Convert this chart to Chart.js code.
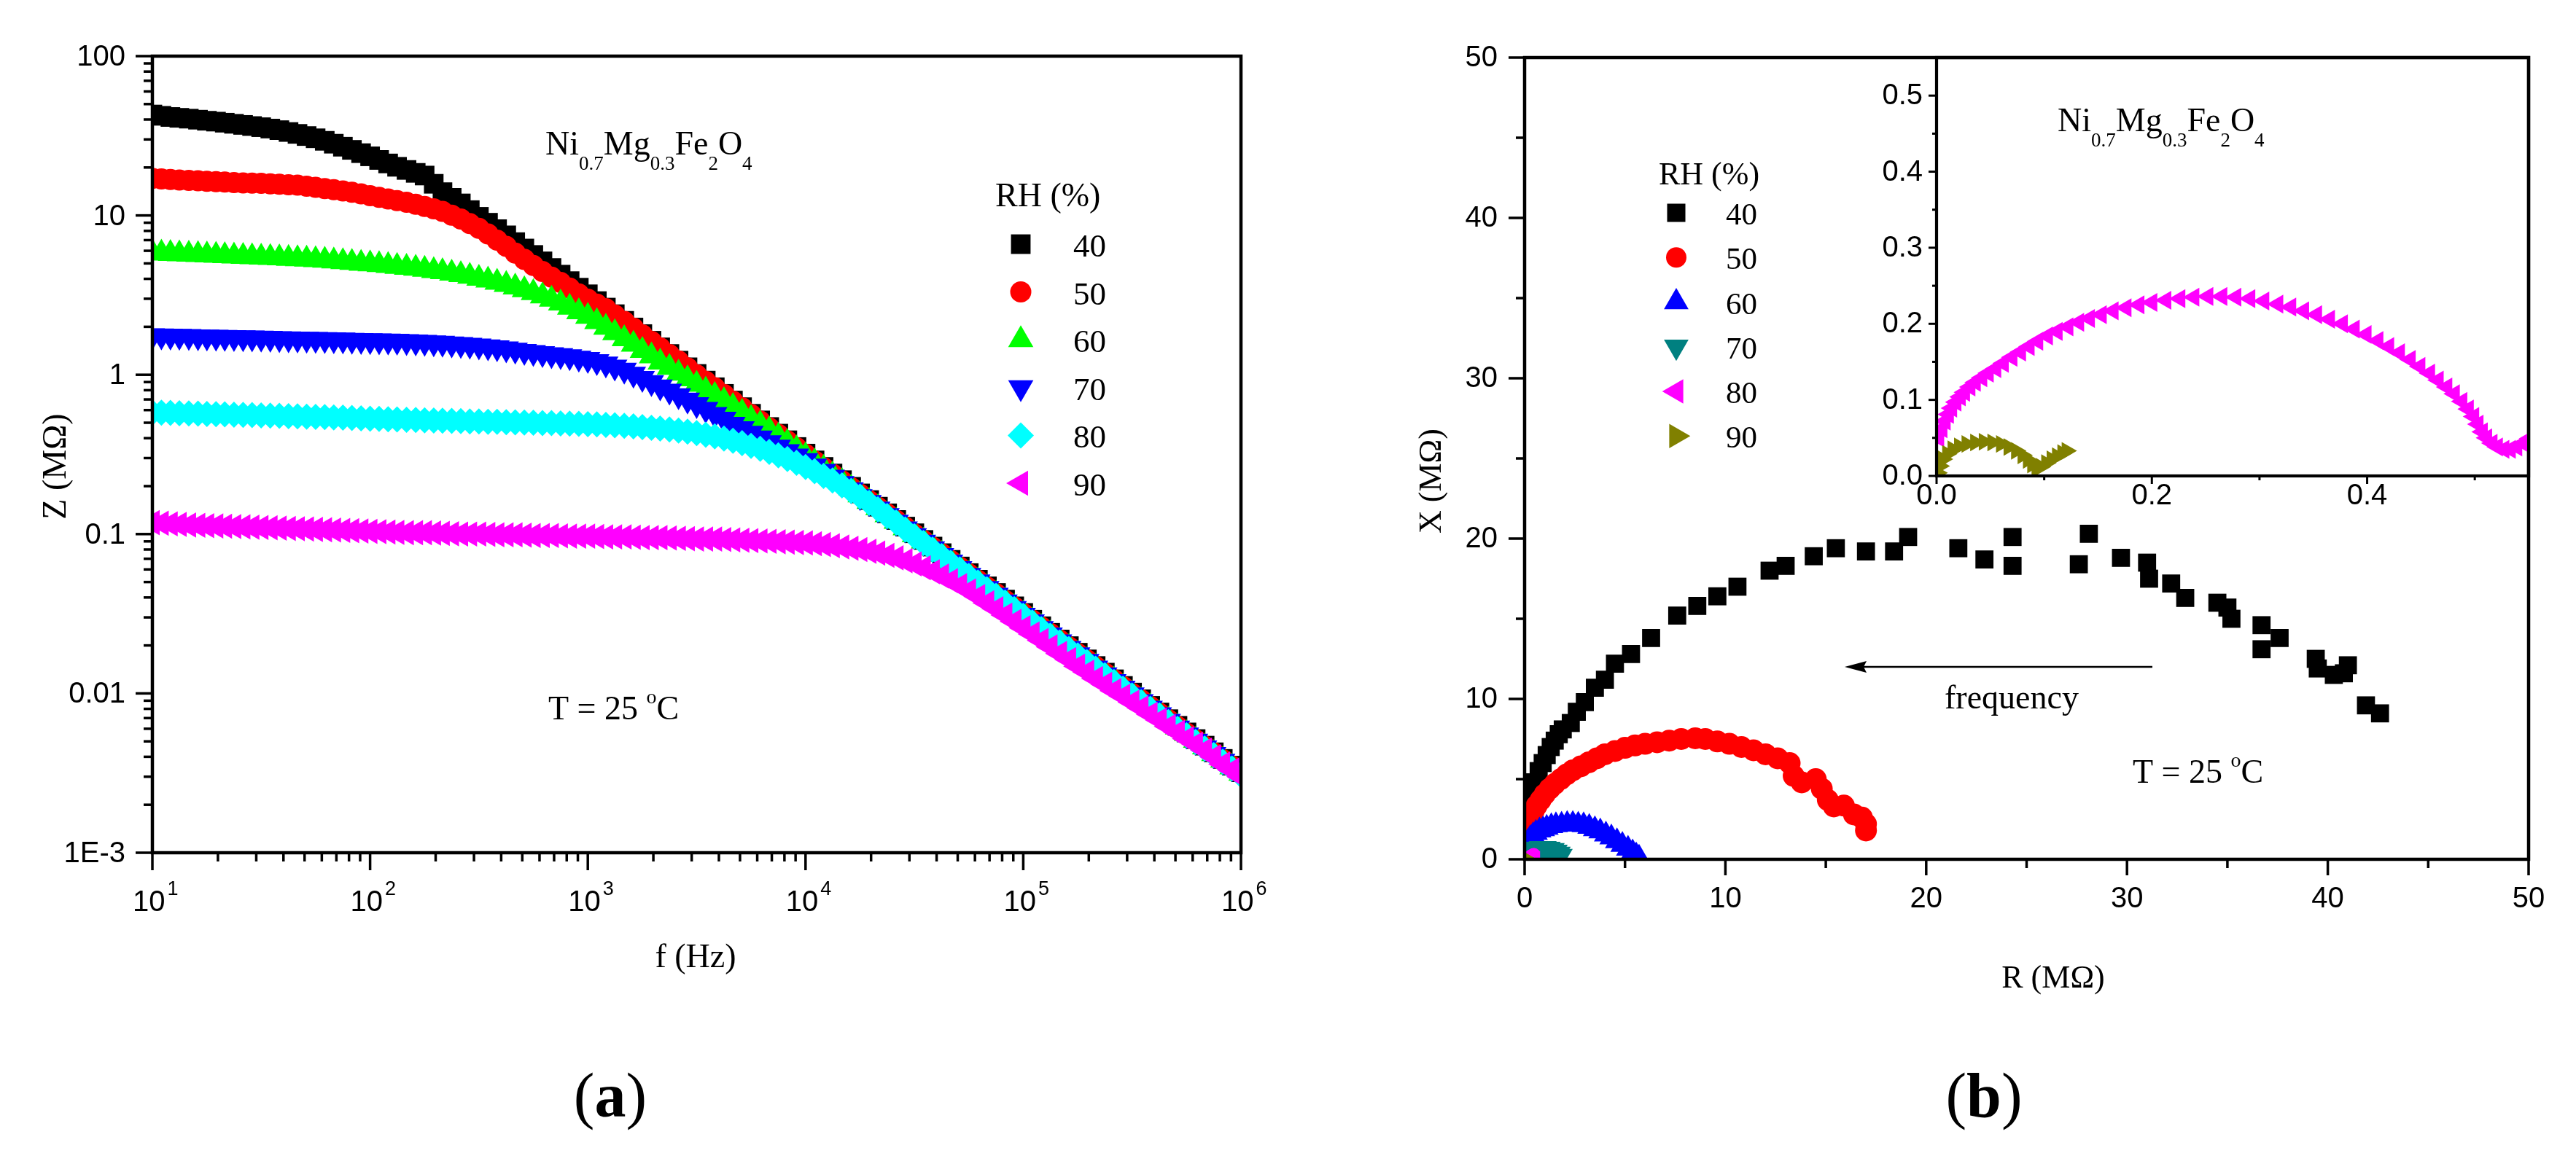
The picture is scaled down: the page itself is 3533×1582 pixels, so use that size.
<!DOCTYPE html>
<html>
<head>
<meta charset="utf-8">
<script src="https://cdn.jsdelivr.net/npm/chart.js@4.4.1/dist/chart.umd.min.js"></script>
<style>
html,body{margin:0;padding:0;background:#fff;}
#wrap{position:relative;width:3533px;height:1582px;background:#fff;overflow:hidden;}
#wrap canvas{position:absolute;left:0;top:0;}
</style>
</head>
<body>
<div id="wrap">
<canvas id="cA" width="3533" height="1582"></canvas>
<canvas id="cB" width="3533" height="1582"></canvas>
<canvas id="cC" width="3533" height="1582"></canvas>
</div>
<script>
// ===================== DATA =====================
const rhLevels = ['40', '50', '60', '70', '80', '90'];

// (a) |Z| (MΩ) vs frequency (Hz)
const freqHz = [10,11.0,12.1,13.3,14.7,16.2,17.8,19.6,21.5,23.7,26.1,28.7,31.6,34.8,38.3,42.2,46.4,51.1,56.2,61.9,68.1,75.0,82.5,90.9,
  100,110,121,133,147,162,178,196,215,237,261,287,316,348,383,422,464,511,562,619,681,750,825,909,
  1000,1100,1210,1330,1470,1620,1780,1960,2150,2370,2610,2870,3160,3480,3830,4220,4640,5110,5620,6190,6810,7500,8250,9090,
  10000,11000,12100,13300,14700,16200,17800,19600,21500,23700,26100,28700,31600,34800,38300,42200,46400,51100,56200,61900,68100,75000,82500,90900,
  100000,110000,121000,133000,147000,162000,178000,196000,215000,237000,261000,287000,316000,348000,383000,422000,464000,511000,562000,619000,681000,750000,825000,909000,
  1000000];
const z40 = [43,42.2,41.5,41.0,40.5,39.9,39.3,38.8,38.2,37.6,37.0,36.4,35.8,35.1,34.3,33.4,32.5,31.5,30.5,29.4,28.2,27.0,25.8,24.6,
  23.5,22.3,21.2,20.2,19.3,18.5,17.8,15.8,14.0,12.9,11.9,10.8,9.8,9.0,8.2,7.5,6.8,6.2,5.65,5.15,4.68,4.25,3.87,3.52,
  3.2,2.9,2.64,2.4,2.18,1.98,1.80,1.635,1.486,1.35,1.226,1.114,1.012,0.919,0.835,0.759,0.689,0.626,0.569,0.517,0.470,0.427,0.388,0.352,
  0.32,0.29,0.264,0.24,0.218,0.198,0.180,0.1635,0.1486,0.135,0.1226,0.1114,0.1012,0.0919,0.0835,0.0759,0.0689,0.0626,0.0569,0.0517,0.047,0.0427,0.0388,0.0352,
  0.032,0.029,0.0264,0.024,0.0218,0.0198,0.018,0.01635,0.01486,0.0135,0.01226,0.01114,0.01012,0.00919,0.00835,0.00759,0.00689,0.00626,0.00569,0.00517,0.0047,0.00427,0.00388,0.00352,
  0.0032];
const z50 = [17.1,16.95,16.8,16.7,16.6,16.5,16.4,16.3,16.2,16.1,16.0,15.95,15.9,15.8,15.7,15.6,15.5,15.25,15.0,14.75,14.5,14.25,14.0,13.65,
  13.3,13.0,12.7,12.4,12.1,11.75,11.4,11.0,10.6,10.05,9.5,8.9,8.3,7.65,7.0,6.4,5.8,5.3,4.85,4.45,4.1,3.8,3.5,3.22,
  2.98,2.78,2.6,2.37,2.16,1.96,1.78,1.62,1.475,1.34,1.22,1.105,1.0,0.91,0.828,0.752,0.683,0.62,0.563,0.512,0.465,0.423,0.384,0.349,
  0.317,0.288,0.261,0.238,0.216,0.196,0.178,0.162,0.1475,0.134,0.122,0.1105,0.100,0.091,0.0828,0.0752,0.0683,0.062,0.0563,0.0512,0.0465,0.0423,0.0384,0.0349,
  0.0317,0.0288,0.0261,0.0238,0.0216,0.0196,0.0178,0.0162,0.01475,0.0134,0.0122,0.01105,0.0100,0.0091,0.00828,0.00752,0.00683,0.0062,0.00563,0.00512,0.00465,0.00423,0.00384,0.00349,
  0.00317];
const z60 = [5.82,5.79,5.76,5.73,5.70,5.67,5.64,5.61,5.58,5.55,5.52,5.49,5.46,5.43,5.40,5.37,5.34,5.30,5.26,5.22,5.17,5.12,5.06,5.0,
  4.95,4.9,4.84,4.78,4.72,4.65,4.58,4.5,4.42,4.33,4.24,4.14,4.03,3.92,3.80,3.68,3.55,3.41,3.27,3.12,2.97,2.81,2.65,2.48,
  2.32,2.15,1.98,1.83,1.68,1.55,1.42,1.31,1.20,1.11,1.02,0.94,0.87,0.8,0.74,0.685,0.63,0.58,0.53,0.49,0.45,0.41,0.375,0.342,
  0.31,0.283,0.258,0.235,0.213,0.194,0.176,0.16,0.146,0.132,0.12,0.109,0.099,0.09,0.082,0.0744,0.0676,0.0614,0.0558,0.0507,0.046,0.0418,0.038,0.0345,
  0.0314,0.0285,0.0259,0.0235,0.0214,0.0194,0.0176,0.016,0.0146,0.0132,0.0121,0.0109,0.0099,0.009,0.0082,0.00744,0.00676,0.00614,0.00558,0.00507,0.0046,0.00418,0.0038,0.00345,
  0.00314];
const z70 = [1.76,1.755,1.75,1.745,1.74,1.735,1.73,1.725,1.72,1.715,1.71,1.705,1.70,1.695,1.69,1.685,1.68,1.675,1.67,1.665,1.66,1.655,1.65,1.645,
  1.64,1.635,1.63,1.625,1.62,1.61,1.60,1.59,1.58,1.565,1.55,1.535,1.52,1.50,1.48,1.455,1.43,1.405,1.38,1.36,1.34,1.32,1.30,1.275,
  1.25,1.21,1.17,1.12,1.07,1.01,0.95,0.895,0.84,0.79,0.74,0.695,0.65,0.607,0.565,0.527,0.49,0.46,0.43,0.402,0.375,0.352,0.33,0.31,
  0.29,0.268,0.248,0.228,0.208,0.19,0.172,0.158,0.144,0.131,0.119,0.108,0.098,0.089,0.0811,0.0736,0.0669,0.0608,0.0552,0.0502,0.0456,0.0414,0.0376,0.0342,
  0.031,0.0282,0.0256,0.0233,0.0211,0.0192,0.0175,0.0159,0.01445,0.0131,0.0119,0.0108,0.0098,0.0089,0.0081,0.00736,0.0067,0.00608,0.0055,0.00502,0.00456,0.00414,0.00376,0.00342,
  0.0031];
const z80 = [0.58,0.578,0.576,0.574,0.572,0.57,0.568,0.566,0.564,0.562,0.56,0.558,0.556,0.554,0.552,0.55,0.548,0.546,0.544,0.542,0.54,0.538,0.535,0.532,
  0.53,0.528,0.526,0.524,0.522,0.52,0.518,0.516,0.515,0.513,0.512,0.51,0.509,0.507,0.506,0.504,0.503,0.501,0.50,0.498,0.497,0.495,0.494,0.492,
  0.49,0.488,0.485,0.482,0.478,0.474,0.47,0.465,0.46,0.454,0.447,0.439,0.43,0.42,0.41,0.398,0.385,0.372,0.358,0.343,0.328,0.312,0.296,0.28,
  0.264,0.248,0.232,0.217,0.202,0.187,0.172,0.157,0.143,0.13,0.118,0.107,0.097,0.088,0.080,0.0728,0.066,0.06,0.0546,0.0496,0.0451,0.041,0.0372,0.0338,
  0.0307,0.0279,0.0253,0.023,0.0209,0.019,0.0173,0.0157,0.0143,0.013,0.0118,0.0107,0.0097,0.0088,0.008,0.00728,0.0066,0.006,0.00546,0.00496,0.00451,0.0041,0.00372,0.00338,
  0.00307];
const z90 = [0.118,0.117,0.116,0.115,0.114,0.1135,0.113,0.1125,0.112,0.1115,0.111,0.1105,0.110,0.1095,0.109,0.1085,0.108,0.1075,0.107,0.1065,0.106,0.1055,0.105,0.1045,
  0.104,0.1035,0.103,0.1025,0.102,0.102,0.102,0.1015,0.101,0.1005,0.100,0.100,0.100,0.0995,0.099,0.099,0.099,0.0985,0.098,0.098,0.098,0.0975,0.097,0.097,
  0.097,0.0965,0.096,0.096,0.096,0.0955,0.095,0.095,0.095,0.0945,0.094,0.0935,0.093,0.093,0.093,0.0925,0.092,0.0915,0.091,0.0905,0.090,0.0895,0.089,0.0885,
  0.088,0.087,0.086,0.0845,0.083,0.0815,0.080,0.078,0.076,0.0735,0.071,0.068,0.065,0.0615,0.058,0.0545,0.051,0.0475,0.044,0.0405,0.037,0.034,0.031,0.0283,
  0.0258,0.0236,0.0215,0.0196,0.0178,0.0163,0.0148,0.0136,0.0124,0.0114,0.0104,0.0096,0.0088,0.0081,0.0074,0.0068,0.0062,0.0057,0.0052,0.0048,0.0044,0.004,0.0036,0.0033,
  0.0030];

// (b) Nyquist: R (MΩ) and X (MΩ)
const r40 = [0.05,0.1,0.2,0.3,0.5,0.7,0.9,1.1,1.3,1.5,1.7,1.9,2.3,2.6,3.0,3.5,4.0,4.5,5.3,6.3,
  7.6,8.6,9.6,10.6,12.2,13.0,14.4,15.5,17.0,18.4,19.1,21.6,22.9,24.3,24.3,27.6,28.1,29.7,31.0,31.1,
  32.2,32.9,34.5,35.0,35.2,36.7,36.7,37.6,39.4,39.5,40.3,41.0,40.8,41.9,42.6];
const x40 = [2.0,2.6,3.3,4.1,4.8,5.5,6.0,6.5,7.0,7.4,7.8,8.1,8.5,9.2,9.8,10.7,11.2,12.2,12.8,13.8,
  15.2,15.8,16.4,17.0,18.0,18.3,18.9,19.4,19.2,19.2,20.1,19.4,18.7,20.1,18.3,18.4,20.3,18.8,18.5,17.5,
  17.2,16.3,16.0,15.7,15.0,14.6,13.1,13.8,12.5,11.9,11.5,12.1,11.6,9.6,9.1];
const r50 = [0.05,0.15,0.3,0.45,0.6,0.8,1.0,1.25,1.5,1.8,2.1,2.4,2.8,3.2,3.6,4.0,4.5,5.0,5.5,6.0,
  6.6,7.2,7.8,8.5,9.0,9.6,10.2,10.8,11.4,12.0,12.6,13.2,13.4,13.8,14.5,14.8,15.1,15.4,15.9,16.4,
  16.8,17.0,17.0];
const x50 = [1.6,2.1,2.6,3.0,3.35,3.7,4.05,4.4,4.7,5.0,5.3,5.55,5.8,6.05,6.3,6.55,6.75,6.95,7.1,7.2,
  7.3,7.4,7.5,7.55,7.5,7.35,7.2,7.0,6.8,6.55,6.3,6.0,5.2,4.8,5.0,4.4,3.7,3.3,3.35,2.8,
  2.6,2.2,1.8];
const r60 = [0.05,0.15,0.28,0.42,0.56,0.74,0.92,1.1,1.33,1.56,1.84,2.12,2.4,2.67,2.94,3.22,3.5,3.77,
  4.05,4.32,4.6,4.87,5.15,5.38,5.56,5.7];
const x60 = [0.85,1.08,1.32,1.5,1.65,1.79,1.88,1.97,2.07,2.12,2.16,2.2,2.2,2.16,2.12,2.02,1.88,1.74,
  1.55,1.36,1.13,0.9,0.66,0.43,0.24,0.1];
const r70 = [0.05,0.2,0.4,0.6,0.8,1.0,1.2,1.4,1.55,1.7,1.8];
const x70 = [0.4,0.5,0.6,0.66,0.7,0.7,0.66,0.58,0.48,0.35,0.22];
const r80 = [0.002,0.005,0.008,0.011,0.014,0.018,0.022,0.026,0.031,0.036,0.042,0.048,0.055,0.062,0.070,
  0.078,0.086,0.094,0.103,0.112,0.122,0.132,0.142,0.153,0.164,0.176,0.188,0.200,0.213,0.226,
  0.239,0.252,0.265,0.278,0.291,0.304,0.317,0.329,0.341,0.353,0.365,0.377,0.388,0.399,0.410,
  0.420,0.430,0.440,0.449,0.458,0.466,0.474,0.481,0.488,0.494,0.499,0.503,0.507,0.511,0.516,
  0.521,0.527,0.533,0.539,0.545,0.551];
const x80 = [0.050,0.062,0.072,0.081,0.089,0.097,0.104,0.110,0.117,0.123,0.129,0.135,0.141,0.148,0.156,
  0.163,0.170,0.177,0.184,0.190,0.196,0.202,0.207,0.212,0.217,0.221,0.225,0.228,0.231,0.233,
  0.235,0.236,0.236,0.235,0.233,0.230,0.226,0.222,0.217,0.212,0.206,0.200,0.193,0.186,0.178,
  0.170,0.162,0.153,0.144,0.135,0.126,0.117,0.108,0.098,0.088,0.078,0.068,0.058,0.050,0.043,
  0.038,0.035,0.035,0.038,0.043,0.049];
const r90 = [0.001,0.003,0.006,0.010,0.015,0.021,0.028,0.036,0.044,0.052,0.060,0.067,0.074,0.080,
  0.085,0.089,0.093,0.097,0.102,0.107,0.112,0.117,0.121];
const x90 = [0.004,0.013,0.022,0.029,0.035,0.039,0.042,0.044,0.045,0.044,0.042,0.038,0.033,0.027,
  0.021,0.015,0.010,0.012,0.017,0.022,0.026,0.030,0.033];

// tick values / labels
const zTickVals = [100, 10, 1, 0.1, 0.01, 0.001];
const zTickLabels = ['100', '10', '1', '0.1', '0.01', '1E-3'];
const fTickVals = [10, 100, 1000, 10000, 100000, 1000000];
const fTickExp = ['1', '2', '3', '4', '5', '6'];
const nyqTickVals = [0, 10, 20, 30, 40, 50];
const nyqTickLabels = ['0', '10', '20', '30', '40', '50'];
const nyqMinorVals = [5, 15, 25, 35, 45];
const insetXTickVals = [0, 0.2, 0.4];
const insetXTickLabels = ['0.0', '0.2', '0.4'];
const insetXMinorVals = [0.1, 0.3, 0.5];
const insetYTickVals = [0, 0.1, 0.2, 0.3, 0.4, 0.5];
const insetYTickLabels = ['0.0', '0.1', '0.2', '0.3', '0.4', '0.5'];
const insetYMinorVals = [0.05, 0.15, 0.25, 0.35, 0.45];

// ===================== STYLE / LAYOUT =====================
const W = 3533, H = 1582;
const SANS = '"Liberation Sans", Arial, Helvetica, sans-serif';
const SERIF = '"Liberation Serif", "Times New Roman", Times, serif';
const PANEL_A = {left: 209, top: 77, right: 1702, bottom: 1170};
const PANEL_B = {left: 2091, top: 79, right: 3468, bottom: 1179};
const PANEL_C = {left: 2656, top: 79, right: 3468, bottom: 653};
const COLORS_A = ['#000000', '#FF0000', '#00FF00', '#0000FF', '#00FFFF', '#FF00FF'];
const STYLES_A = [['rect', 0, 19], ['circle', 0, 14.5], ['triangle', 0, 20], ['triangle', 180, 20], ['rectRot', 0, 18], ['triangle', 270, 20]];
const COLORS_B = ['#000000', '#FF0000', '#0000FF', '#008080', '#FF00FF', '#808000'];
const STYLES_B = [['rect', 0, 17.5], ['circle', 0, 15], ['triangle', 0, 19], ['triangle', 180, 19], ['triangle', 270, 12], ['triangle', 90, 12]];
const LEGEND_B_R = [17.7, 14, 19.5, 19.5, 19.3, 19.3];

function pad(p) { return {left: p.left, top: p.top, right: W - p.right, bottom: H - p.bottom}; }

function ds(label, xs, ys, color, st, idx, n) {
  return {
    label: label,
    data: xs.map((v, i) => ({x: v, y: ys[i]})),
    backgroundColor: color, borderColor: color,
    pointBackgroundColor: color, pointBorderColor: color,
    pointStyle: st[0], pointRotation: st[1], pointRadius: st[2], pointHoverRadius: st[2],
    pointBorderWidth: 0, showLine: false, clip: 0,
    order: n - idx
  };
}

function line(ctx, x1, y1, x2, y2) { ctx.beginPath(); ctx.moveTo(x1, y1); ctx.lineTo(x2, y2); ctx.stroke(); }

function marker(ctx, style, rot, r, color, x, y) {
  ctx.save();
  ctx.fillStyle = color; ctx.strokeStyle = color;
  if (Chart.helpers && Chart.helpers.drawPoint) {
    Chart.helpers.drawPoint(ctx, {pointStyle: style, rotation: rot, radius: r, borderWidth: 0}, x, y);
  } else {
    ctx.beginPath(); ctx.arc(x, y, r, 0, Math.PI * 2); ctx.fill();
  }
  ctx.restore();
}

function rich(ctx, parts, x, y, align) {
  let total = 0;
  for (const p of parts) { ctx.font = (p[3] || '') + ' ' + p[1] + 'px ' + SERIF; total += ctx.measureText(p[0]).width; }
  let cx = align === 'center' ? x - total / 2 : x;
  ctx.textAlign = 'left'; ctx.textBaseline = 'alphabetic';
  for (const p of parts) {
    ctx.font = (p[3] || '') + ' ' + p[1] + 'px ' + SERIF;
    ctx.fillText(p[0], cx, y + (p[2] || 0));
    cx += ctx.measureText(p[0]).width;
  }
}

const FORMULA = [['Ni', 46, 0], ['0.7', 27, 21], ['Mg', 46, 0], ['0.3', 27, 21], ['Fe', 46, 0], ['2', 27, 21], ['O', 46, 0], ['4', 27, 21]];
const TEMP = [['T = 25 ', 46, 0], ['o', 28, -22], ['C', 46, 0]];

function rotatedTitle(ctx, s, x, y, size) {
  ctx.save();
  ctx.translate(x, y); ctx.rotate(-Math.PI / 2);
  ctx.font = size + 'px ' + SERIF; ctx.textAlign = 'center'; ctx.textBaseline = 'middle';
  ctx.fillText(s, 0, 0);
  ctx.restore();
}

// ===================== PLUGINS =====================
const decorA = {
  id: 'decorA',
  afterDatasetsDraw(chart) {
    const {ctx, chartArea: a, scales: {x, y}} = chart;
    ctx.save();
    ctx.strokeStyle = '#000'; ctx.fillStyle = '#000';
    ctx.lineWidth = 4.5;
    ctx.strokeRect(a.left, a.top, a.right - a.left, a.bottom - a.top);
    ctx.lineWidth = 3.5;
    for (let e = 1; e <= 6; e++) {
      const p = x.getPixelForValue(Math.pow(10, e));
      line(ctx, p, a.bottom, p, a.bottom + 24);
      if (e < 6) for (let m = 2; m <= 9; m++) {
        const q = x.getPixelForValue(m * Math.pow(10, e));
        line(ctx, q, a.bottom, q, a.bottom + 12);
      }
    }
    for (let e = -3; e <= 2; e++) {
      const p = y.getPixelForValue(Math.pow(10, e));
      line(ctx, a.left - 23, p, a.left, p);
      if (e < 2) for (let m = 2; m <= 9; m++) {
        const q = y.getPixelForValue(m * Math.pow(10, e));
        line(ctx, a.left - 12, q, a.left, q);
      }
    }
    ctx.font = '40px ' + SANS; ctx.textAlign = 'right'; ctx.textBaseline = 'alphabetic';
    zTickVals.forEach((v, i) => ctx.fillText(zTickLabels[i], a.left - 37, y.getPixelForValue(v) + 13));
    fTickVals.forEach((v, i) => {
      const p = x.getPixelForValue(v);
      ctx.font = '40px ' + SANS; ctx.textAlign = 'left';
      ctx.fillText('10', p - 27, a.bottom + 80);
      const w = ctx.measureText('10').width;
      ctx.font = '27px ' + SANS;
      ctx.fillText(fTickExp[i], p - 27 + w + 3, a.bottom + 58);
    });
    ctx.font = '46px ' + SERIF; ctx.textAlign = 'center';
    ctx.fillText('f (Hz)', 954, 1327);
    rotatedTitle(ctx, 'Z (MΩ)', 78, 640, 46);
    rich(ctx, FORMULA, 748, 212);
    rich(ctx, TEMP, 752, 987);
    rich(ctx, [['(', 86, 0], ['a', 86, 0, 'bold'], [')', 86, 0]], 837, 1532, 'center');
    ctx.font = '46px ' + SERIF; ctx.textAlign = 'left'; ctx.textBaseline = 'alphabetic';
    ctx.fillText('RH (%)', 1365, 283);
    chart.data.datasets.forEach((d, i) => {
      const base = 352 + 65.6 * i;
      marker(ctx, d.pointStyle, d.pointRotation, d.pointRadius, d.backgroundColor, 1400, base - 17);
      ctx.fillStyle = '#000'; ctx.font = '45px ' + SERIF; ctx.textAlign = 'left';
      ctx.fillText(d.label, 1472, base);
    });
    ctx.restore();
  }
};

const decorB = {
  id: 'decorB',
  afterDatasetsDraw(chart) {
    const {ctx, chartArea: a, scales: {x, y}} = chart;
    ctx.save();
    ctx.strokeStyle = '#000'; ctx.fillStyle = '#000';
    ctx.lineWidth = 4.5;
    ctx.strokeRect(a.left, a.top, a.right - a.left, a.bottom - a.top);
    ctx.lineWidth = 3.5;
    nyqTickVals.forEach(v => {
      const p = x.getPixelForValue(v); line(ctx, p, a.bottom, p, a.bottom + 22);
      const q = y.getPixelForValue(v); line(ctx, a.left - 22, q, a.left, q);
    });
    nyqMinorVals.forEach(v => {
      const p = x.getPixelForValue(v); line(ctx, p, a.bottom, p, a.bottom + 12);
      const q = y.getPixelForValue(v); line(ctx, a.left - 12, q, a.left, q);
    });
    ctx.font = '40px ' + SANS; ctx.textBaseline = 'alphabetic';
    ctx.textAlign = 'center';
    nyqTickVals.forEach((v, i) => ctx.fillText(nyqTickLabels[i], x.getPixelForValue(v), a.bottom + 66));
    ctx.textAlign = 'right';
    nyqTickVals.forEach((v, i) => ctx.fillText(nyqTickLabels[i], a.left - 37, y.getPixelForValue(v) + 12));
    ctx.font = '44px ' + SERIF; ctx.textAlign = 'center';
    ctx.fillText('R (MΩ)', 2816, 1355);
    rotatedTitle(ctx, 'X (MΩ)', 1964, 660, 44);
    ctx.font = '46px ' + SERIF; ctx.textAlign = 'left';
    ctx.fillText('frequency', 2667, 972);
    rich(ctx, TEMP, 2925, 1074);
    rich(ctx, [['(', 86, 0], ['b', 86, 0, 'bold'], [')', 86, 0]], 2721, 1532, 'center');
    ctx.lineWidth = 2.5;
    line(ctx, 2952, 915, 2555, 915);
    ctx.beginPath(); ctx.moveTo(2530, 915); ctx.lineTo(2560, 907); ctx.lineTo(2556, 915); ctx.lineTo(2560, 923); ctx.closePath(); ctx.fill();
    ctx.font = '44px ' + SERIF; ctx.textAlign = 'left';
    ctx.fillText('RH (%)', 2275, 253);
    chart.data.datasets.forEach((d, i) => {
      const base = 308 + 61.25 * i;
      marker(ctx, d.pointStyle, d.pointRotation, LEGEND_B_R[i], d.backgroundColor, 2299, base - 16);
      ctx.fillStyle = '#000'; ctx.font = '43px ' + SERIF; ctx.textAlign = 'left';
      ctx.fillText(d.label, 2367, base);
    });
    ctx.restore();
  }
};

const decorC = {
  id: 'decorC',
  afterDatasetsDraw(chart) {
    const {ctx, chartArea: a, scales: {x, y}} = chart;
    ctx.save();
    ctx.strokeStyle = '#000'; ctx.fillStyle = '#000';
    ctx.lineWidth = 4.2;
    ctx.strokeRect(a.left, a.top, a.right - a.left, a.bottom - a.top);
    ctx.lineWidth = 3;
    insetXTickVals.forEach(v => { const p = x.getPixelForValue(v); line(ctx, p, a.bottom, p, a.bottom + 11); });
    insetXMinorVals.forEach(v => { const p = x.getPixelForValue(v); line(ctx, p, a.bottom, p, a.bottom + 6); });
    insetYTickVals.forEach(v => { const q = y.getPixelForValue(v); line(ctx, a.left - 11, q, a.left, q); });
    insetYMinorVals.forEach(v => { const q = y.getPixelForValue(v); line(ctx, a.left - 6, q, a.left, q); });
    ctx.font = '40px ' + SANS; ctx.textBaseline = 'alphabetic';
    ctx.textAlign = 'center';
    insetXTickVals.forEach((v, i) => ctx.fillText(insetXTickLabels[i], x.getPixelForValue(v), a.bottom + 39));
    ctx.textAlign = 'right';
    insetYTickVals.forEach((v, i) => ctx.fillText(insetYTickLabels[i], a.left - 19, y.getPixelForValue(v) + 12));
    rich(ctx, FORMULA, 2822, 180);
    ctx.restore();
  }
};

function baseOptions(panel, xScale, yScale) {
  return {
    responsive: false, maintainAspectRatio: false, animation: false, devicePixelRatio: 1, events: [],
    layout: {padding: pad(panel)},
    plugins: {legend: {display: false}, tooltip: {enabled: false}, title: {display: false}},
    scales: {x: Object.assign({display: false}, xScale), y: Object.assign({display: false}, yScale)}
  };
}

// ===================== CHARTS =====================
const zSeries = [z40, z50, z60, z70, z80, z90];
new Chart(document.getElementById('cA'), {
  type: 'scatter',
  data: {datasets: zSeries.map((z, i) => ds(rhLevels[i], freqHz, z, COLORS_A[i], STYLES_A[i], i, zSeries.length))},
  options: baseOptions(PANEL_A, {type: 'logarithmic', min: 10, max: 1000000}, {type: 'logarithmic', min: 0.001, max: 100}),
  plugins: [decorA]
});

const rSeries = [r40, r50, r60, r70, r80, r90];
const xSeries = [x40, x50, x60, x70, x80, x90];
new Chart(document.getElementById('cB'), {
  type: 'scatter',
  data: {datasets: rSeries.map((r, i) => ds(rhLevels[i], r, xSeries[i], COLORS_B[i], STYLES_B[i], i, rSeries.length))},
  options: baseOptions(PANEL_B, {type: 'linear', min: 0, max: 50}, {type: 'linear', min: 0, max: 50}),
  plugins: [decorB]
});

new Chart(document.getElementById('cC'), {
  type: 'scatter',
  data: {datasets: [
    ds(rhLevels[4], r80, x80, COLORS_B[4], ['triangle', 270, 15], 0, 2),
    ds(rhLevels[5], r90, x90, COLORS_B[5], ['triangle', 90, 14], 1, 2)
  ]},
  options: baseOptions(PANEL_C, {type: 'linear', min: 0, max: 0.55}, {type: 'linear', min: 0, max: 0.55}),
  plugins: [decorC]
});
</script>
</body>
</html>
